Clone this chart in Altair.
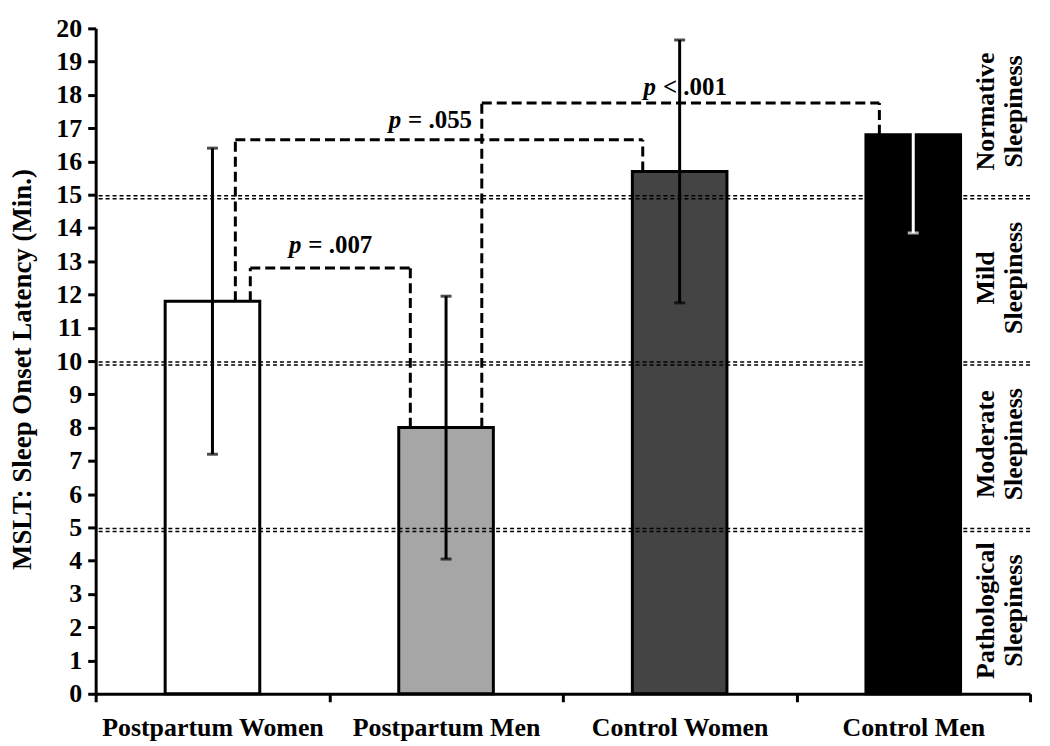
import altair as alt
import pandas as pd

# ---------------- data ----------------
categories = ["Postpartum Women", "Postpartum Men", "Control Women", "Control Men"]
means = [11.8, 8.0, 15.7, 16.8]
sds = [4.6, 3.95, 3.95, 2.95]
bar_fills = ["#ffffff", "#a6a6a6", "#444444", "#000000"]
err_colors = ["#000000", "#000000", "#000000", "#ffffff"]

thresholds = [5, 10, 15]
zone_bounds = [0, 5, 10, 15, 20]
zone_names = ["Pathological\nSleepiness", "Moderate\nSleepiness",
              "Mild\nSleepiness", "Normative\nSleepiness"]

cmp_from = [0, 0, 1]
cmp_to = [1, 2, 3]
cmp_height = [12.8, 16.65, 17.76]
cmp_rest = ["= .007", "= .055", "< .001"]
cmp_text_x = [1.0, 1.427, 2.518]
cmp_text_y = [13.25, 17.0, 18.0]

y_ticks = list(range(0, 21))

# ---------------- style constants ----------------
W, H = 938, 668
FONT = "Liberation Serif"
BAR_W = 0.405
LEFT_OFF = [0.162, 0.098, 0.153]
RIGHT_OFF = [0.153, 0.158, 0.145]
ZONE_X = 3.81

xscale = alt.Scale(domain=[0, 4], nice=False, zero=False)
yscale = alt.Scale(domain=[0, 20], nice=False)

cat_js = "[" + ",".join("'" + c + "'" for c in categories) + "]"
xaxis = alt.Axis(
    values=[i * 0.5 for i in range(9)],
    labelExpr=f"datum.value % 1 == 0 ? '' : {cat_js}[floor(datum.value)]",
    tickOpacity={"condition": {"test": "datum.value % 1 != 0", "value": 0}, "value": 1},
    title=None, grid=False, labelFont=FONT, labelFontSize=26, labelFontWeight="bold",
    labelColor="black", labelPadding=13, labelOverlap=False, labelFlush=False,
    labelLimit=0, domainColor="black", domainWidth=3, tickColor="black",
    tickWidth=3, tickSize=8,
)
yaxis = alt.Axis(
    values=y_ticks, title="MSLT: Sleep Onset Latency (Min.)", grid=False,
    labelFont=FONT, labelFontSize=26, labelFontWeight="bold", labelColor="black",
    labelPadding=6, labelOverlap=False, labelLimit=0, domainColor="black",
    domainWidth=3, tickColor="black", tickWidth=3, tickSize=8,
    titleFont=FONT, titleFontSize=27, titleFontWeight="bold", titleColor="black",
    titleX=-73, titleY=H / 2 + 8, titleAngle=270, titleBaseline="middle",
    titleAlign="center",
)

bars = pd.DataFrame({
    "cat": categories, "mean": means, "sd": sds, "fill": bar_fills, "ec": err_colors,
})
bars["xc"] = [i + 0.5 for i in range(len(categories))]
bars["x0"] = bars["xc"] - BAR_W / 2
bars["x1"] = bars["xc"] + BAR_W / 2
bars["lo"] = bars["mean"] - bars["sd"]
bars["hi"] = bars["mean"] + bars["sd"]
bars["zero"] = 0

caps = pd.concat([
    bars[["xc", "ec"]].assign(y=bars["lo"]),
    bars[["xc", "ec"]].assign(y=bars["hi"]),
])

segs = []
for i in range(len(cmp_from)):
    a, b = cmp_from[i], cmp_to[i]
    xa = a + 0.5 + LEFT_OFF[i]
    xb = b + 0.5 - RIGHT_OFF[i]
    h = cmp_height[i]
    segs.append({"xa": xa, "xb": xb, "ya": h, "yb": h})
    segs.append({"xa": xa, "xb": xa, "ya": means[a], "yb": h})
    segs.append({"xa": xb, "xb": xb, "ya": means[b], "yb": h})
segs = pd.DataFrame(segs)

ptext = pd.DataFrame({"tx": cmp_text_x, "ty": cmp_text_y, "rest": cmp_rest, "p": "p"})

zones = pd.DataFrame({
    "name": zone_names,
    "zy": [(zone_bounds[i] + zone_bounds[i + 1]) / 2 for i in range(len(zone_names))],
    "zx": ZONE_X,
})
refs = pd.DataFrame({"t": thresholds})


def X(field):
    return alt.X(field, scale=xscale, axis=xaxis)


def Y(field):
    return alt.Y(field, scale=yscale, axis=yaxis)


bar_layer = alt.Chart(bars).mark_rect(stroke="black", strokeWidth=3).encode(
    x=X("x0:Q"), x2="x1:Q", y=Y("mean:Q"), y2="zero:Q",
    fill=alt.Color("fill:N", scale=None),
)

ref1 = alt.Chart(refs).mark_rule(strokeDash=[4, 3], strokeWidth=1.5, color="black", yOffset=1).encode(
    y=Y("t:Q"))
ref2 = alt.Chart(refs).mark_rule(strokeDash=[4, 3], strokeWidth=1.5, color="black", yOffset=4).encode(
    y=Y("t:Q"))

err_layer = alt.Chart(bars).mark_rule(strokeWidth=3).encode(
    x=X("xc:Q"), y=Y("lo:Q"), y2="hi:Q",
    color=alt.Color("ec:N", scale=None),
)
cap_layer = alt.Chart(caps).mark_tick(orient="horizontal", size=11, thickness=3).encode(
    x=X("xc:Q"), y=Y("y:Q"),
    color=alt.Color("ec:N", scale=None),
)

bracket_layer = alt.Chart(segs).mark_rule(strokeDash=[10, 5], strokeWidth=3, color="black").encode(
    x=X("xa:Q"), x2="xb:Q", y=Y("ya:Q"), y2="yb:Q",
)

p_layer = alt.Chart(ptext).mark_text(
    font=FONT, fontSize=25, fontWeight="bold", fontStyle="italic",
    align="right", baseline="alphabetic", dx=-28, color="black",
).encode(x=X("tx:Q"), y=Y("ty:Q"), text="p:N")
rest_layer = alt.Chart(ptext).mark_text(
    font=FONT, fontSize=25, fontWeight="bold",
    align="left", baseline="alphabetic", dx=-21, color="black",
).encode(x=X("tx:Q"), y=Y("ty:Q"), text="rest:N")

zone_layer = alt.Chart(zones).mark_text(
    font=FONT, fontSize=26, fontWeight="bold", angle=270, lineBreak="\n",
    lineHeight=28, align="center", baseline="middle", color="black",
).encode(x=X("zx:Q"), y=Y("zy:Q"), text="name:N")

chart = alt.layer(
    bar_layer, ref1, ref2, err_layer, cap_layer, bracket_layer, p_layer, rest_layer, zone_layer
).properties(
    width=W, height=H,
    autosize=alt.AutoSizeParams(type="none"),
    padding={"left": 88, "top": 19, "right": 12, "bottom": 56},
    background="white",
).configure_view(stroke=None)

chart.save("out.html", embed_options={"renderer": "svg", "actions": False})
